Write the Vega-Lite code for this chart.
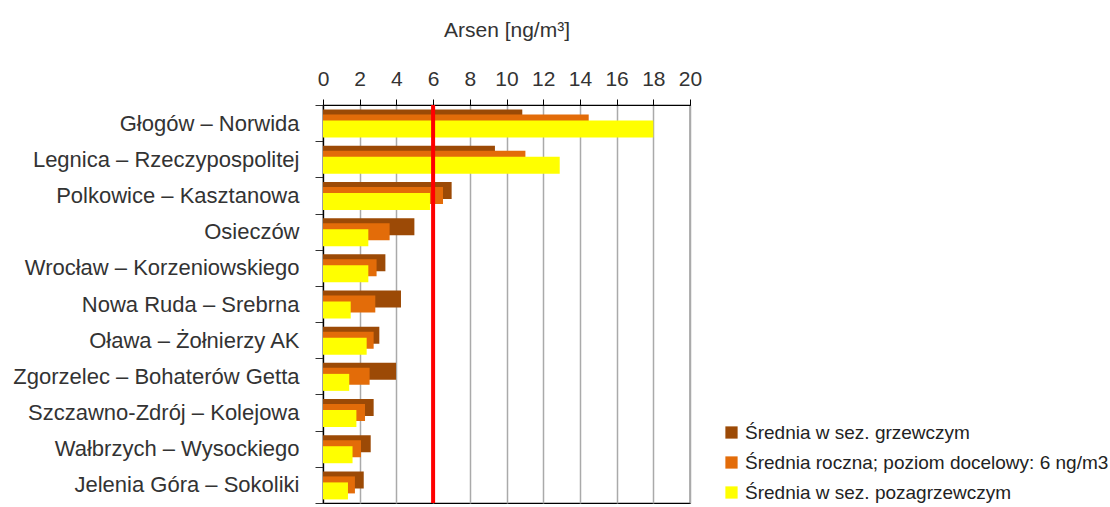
{
  "$schema": "https://vega.github.io/schema/vega-lite/v6.json",
  "width": 367,
  "height": 398,
  "autosize": {"type": "none"},
  "padding": {"left": 323, "top": 105, "right": 420, "bottom": 4},
  "background": "white",
  "config": {
    "font": "Liberation Sans",
    "view": {"stroke": "black", "strokeWidth": 1.2}
  },
  "datasets": {
    "arsen": [
      {"stacja": "Głogów – Norwida", "seria": "Średnia w sez. grzewczym", "wartosc": 10.86},
      {"stacja": "Głogów – Norwida", "seria": "Średnia roczna; poziom docelowy: 6 ng/m3", "wartosc": 14.48},
      {"stacja": "Głogów – Norwida", "seria": "Średnia w sez. pozagrzewczym", "wartosc": 18.0},
      {"stacja": "Legnica – Rzeczypospolitej", "seria": "Średnia w sez. grzewczym", "wartosc": 9.37},
      {"stacja": "Legnica – Rzeczypospolitej", "seria": "Średnia roczna; poziom docelowy: 6 ng/m3", "wartosc": 11.03},
      {"stacja": "Legnica – Rzeczypospolitej", "seria": "Średnia w sez. pozagrzewczym", "wartosc": 12.9},
      {"stacja": "Polkowice – Kasztanowa", "seria": "Średnia w sez. grzewczym", "wartosc": 7.01},
      {"stacja": "Polkowice – Kasztanowa", "seria": "Średnia roczna; poziom docelowy: 6 ng/m3", "wartosc": 6.54},
      {"stacja": "Polkowice – Kasztanowa", "seria": "Średnia w sez. pozagrzewczym", "wartosc": 5.83},
      {"stacja": "Osieczów", "seria": "Średnia w sez. grzewczym", "wartosc": 4.98},
      {"stacja": "Osieczów", "seria": "Średnia roczna; poziom docelowy: 6 ng/m3", "wartosc": 3.63},
      {"stacja": "Osieczów", "seria": "Średnia w sez. pozagrzewczym", "wartosc": 2.47},
      {"stacja": "Wrocław – Korzeniowskiego", "seria": "Średnia w sez. grzewczym", "wartosc": 3.4},
      {"stacja": "Wrocław – Korzeniowskiego", "seria": "Średnia roczna; poziom docelowy: 6 ng/m3", "wartosc": 2.92},
      {"stacja": "Wrocław – Korzeniowskiego", "seria": "Średnia w sez. pozagrzewczym", "wartosc": 2.47},
      {"stacja": "Nowa Ruda – Srebrna", "seria": "Średnia w sez. grzewczym", "wartosc": 4.25},
      {"stacja": "Nowa Ruda – Srebrna", "seria": "Średnia roczna; poziom docelowy: 6 ng/m3", "wartosc": 2.85},
      {"stacja": "Nowa Ruda – Srebrna", "seria": "Średnia w sez. pozagrzewczym", "wartosc": 1.51},
      {"stacja": "Oława – Żołnierzy AK", "seria": "Średnia w sez. grzewczym", "wartosc": 3.07},
      {"stacja": "Oława – Żołnierzy AK", "seria": "Średnia roczna; poziom docelowy: 6 ng/m3", "wartosc": 2.76},
      {"stacja": "Oława – Żołnierzy AK", "seria": "Średnia w sez. pozagrzewczym", "wartosc": 2.38},
      {"stacja": "Zgorzelec – Bohaterów Getta", "seria": "Średnia w sez. grzewczym", "wartosc": 3.98},
      {"stacja": "Zgorzelec – Bohaterów Getta", "seria": "Średnia roczna; poziom docelowy: 6 ng/m3", "wartosc": 2.54},
      {"stacja": "Zgorzelec – Bohaterów Getta", "seria": "Średnia w sez. pozagrzewczym", "wartosc": 1.43},
      {"stacja": "Szczawno-Zdrój – Kolejowa", "seria": "Średnia w sez. grzewczym", "wartosc": 2.76},
      {"stacja": "Szczawno-Zdrój – Kolejowa", "seria": "Średnia roczna; poziom docelowy: 6 ng/m3", "wartosc": 2.29},
      {"stacja": "Szczawno-Zdrój – Kolejowa", "seria": "Średnia w sez. pozagrzewczym", "wartosc": 1.82},
      {"stacja": "Wałbrzych – Wysockiego", "seria": "Średnia w sez. grzewczym", "wartosc": 2.6},
      {"stacja": "Wałbrzych – Wysockiego", "seria": "Średnia roczna; poziom docelowy: 6 ng/m3", "wartosc": 2.07},
      {"stacja": "Wałbrzych – Wysockiego", "seria": "Średnia w sez. pozagrzewczym", "wartosc": 1.61},
      {"stacja": "Jelenia Góra – Sokoliki", "seria": "Średnia w sez. grzewczym", "wartosc": 2.22},
      {"stacja": "Jelenia Góra – Sokoliki", "seria": "Średnia roczna; poziom docelowy: 6 ng/m3", "wartosc": 1.74},
      {"stacja": "Jelenia Góra – Sokoliki", "seria": "Średnia w sez. pozagrzewczym", "wartosc": 1.36}
    ],
    "limit": [{"poziom": 6}]
  },
  "encoding": {
    "y": {
      "field": "stacja",
      "type": "nominal",
      "sort": null,
      "scale": {"paddingInner": 0, "paddingOuter": 0},
      "axis": {
        "title": null,
        "labelFontSize": 22,
        "labelColor": "#333333",
        "labelPadding": 16,
        "labelLimit": 400,
        "domainColor": "black",
        "domainWidth": 1.2,
        "tickColor": "#333333",
        "tickSize": 8,
        "tickBand": "extent",
        "grid": false
      }
    },
    "x": {
      "field": "wartosc",
      "type": "quantitative",
      "scale": {"domain": [0, 20], "nice": false},
      "axis": {
        "orient": "top",
        "title": "Arsen [ng/m³]",
        "titleFontSize": 21,
        "titleFontWeight": "normal",
        "titleColor": "#333333",
        "titlePadding": 28,
        "values": [0, 2, 4, 6, 8, 10, 12, 14, 16, 18, 20],
        "labelOverlap": false,
        "labelFlush": false,
        "labelFontSize": 21,
        "labelColor": "#333333",
        "labelPadding": 10,
        "domainColor": "black",
        "domainWidth": 1.2,
        "tickColor": "black",
        "tickSize": 6,
        "grid": true,
        "gridColor": "#aaaaaa",
        "gridWidth": 1.5
      }
    },
    "color": {
      "field": "seria",
      "type": "nominal",
      "scale": {
        "domain": ["Średnia w sez. grzewczym", "Średnia roczna; poziom docelowy: 6 ng/m3", "Średnia w sez. pozagrzewczym"],
        "range": ["#9C4A06", "#E36C09", "#FFFF00"]
      },
      "legend": {
        "title": null,
        "orient": "none",
        "legendX": 399,
        "legendY": 318,
        "symbolType": "square",
        "symbolSize": 150,
        "symbolStrokeWidth": 0,
        "labelFontSize": 19,
        "labelColor": "#222222",
        "labelLimit": 500,
        "rowPadding": 10,
        "labelOffset": 4
      }
    }
  },
  "layer": [
    {
      "data": {"name": "arsen"},
      "transform": [{"filter": "datum.seria === 'Średnia w sez. grzewczym'"}],
      "mark": {"type": "bar", "height": 17, "yOffset": -5}
    },
    {
      "data": {"name": "arsen"},
      "transform": [{"filter": "datum.seria === 'Średnia roczna; poziom docelowy: 6 ng/m3'"}],
      "mark": {"type": "bar", "height": 17, "yOffset": 0}
    },
    {
      "data": {"name": "arsen"},
      "transform": [{"filter": "datum.seria === 'Średnia w sez. pozagrzewczym'"}],
      "mark": {"type": "bar", "height": 17, "yOffset": 6}
    },
    {
      "data": {"name": "limit"},
      "mark": {"type": "rule", "color": "#FF0000", "strokeWidth": 4},
      "encoding": {
        "x": {"field": "poziom", "type": "quantitative"},
        "y": {"value": 0},
        "y2": {"value": 398},
        "color": {"value": "#FF0000"}
      }
    }
  ]
}
